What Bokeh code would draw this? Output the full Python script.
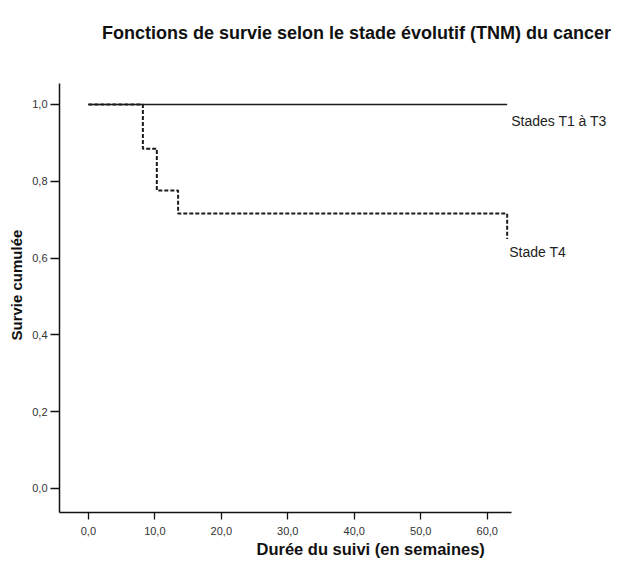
from bokeh.plotting import figure
from bokeh.models import Range1d, FixedTicker, Label, Title
from bokeh.embed import file_html
from bokeh.resources import INLINE

# ---- data ----
t13_times = [0.0, 63.0]
t13_surv = [1.0, 1.0]
t4_times = [0.0, 8.2, 10.3, 13.5, 63.0]
t4_surv = [1.0, 0.885, 0.776, 0.716, 0.65]

x_ticks = [0, 10, 20, 30, 40, 50, 60]
x_tick_labels = ["0,0", "10,0", "20,0", "30,0", "40,0", "50,0", "60,0"]
y_ticks = [0.0, 0.2, 0.4, 0.6, 0.8, 1.0]
y_tick_labels = ["0,0", "0,2", "0,4", "0,6", "0,8", "1,0"]

title_text = "Fonctions de survie selon le stade évolutif (TNM) du cancer"
x_title = "Durée du suivi (en semaines)"
y_title = "Survie cumulée"
series_names = ["Stades T1 à T3", "Stade T4"]

FONT = "Liberation Sans"

p = figure(width=626, height=560, output_backend="svg", toolbar_location=None,
           x_range=Range1d(-4.34, 80.95), y_range=Range1d(-0.0625, 1.2708),
           min_border_left=56, min_border_right=0, min_border_top=0,
           min_border_bottom=48)
p.outline_line_color = None
p.xgrid.visible = False
p.ygrid.visible = False
p.background_fill_color = "white"
p.border_fill_color = "white"

for ax in (p.xaxis[0], p.yaxis[0]):
    ax.axis_line_color = "#111111"
    ax.axis_line_width = 1.5
    ax.major_tick_line_color = "#111111"
    ax.major_tick_line_width = 1.3
    ax.major_tick_in = 0
    ax.minor_tick_line_color = None
    ax.major_label_text_font = FONT
    ax.major_label_text_font_size = "11px"
    ax.major_label_text_color = "#333333"

p.xaxis.ticker = FixedTicker(ticks=x_ticks)
p.xaxis.major_label_overrides = {float(t): l for t, l in zip(x_ticks, x_tick_labels)}
p.xaxis.major_tick_out = 7
p.xaxis.major_label_standoff = 7
p.xaxis.bounds = (-4.34, 63.6)
p.yaxis.ticker = FixedTicker(ticks=y_ticks)
p.yaxis.major_label_overrides = {float(t): l for t, l in zip(y_ticks, y_tick_labels)}
p.yaxis.major_tick_out = 9
p.yaxis.major_label_standoff = 3
p.yaxis.bounds = (-0.0625, 1.0555)

p.step(t13_times, t13_surv, mode="after", line_color="#1a1a1a", line_width=1.5)
p.step(t4_times, t4_surv, mode="after", line_color="#1a1a1a", line_width=2,
       line_dash="4 2")

p.add_layout(Label(x=63.6, y=0.956, text=series_names[0], text_font=FONT,
                   text_font_size="14px", text_color="#222222",
                   text_align="left", text_baseline="middle"))
p.add_layout(Label(x=63.3, y=0.615, text=series_names[1], text_font=FONT,
                   text_font_size="14px", text_color="#222222",
                   text_align="left", text_baseline="middle"))

p.add_layout(Label(x=40.33, y=1.185, text=title_text, text_font=FONT,
                   text_font_size="18px", text_font_style="bold",
                   text_color="#111111", text_align="center", text_baseline="middle"))

p.add_layout(Title(text=x_title, align="left", offset=197, standoff=0, text_font=FONT,
                   text_font_size="16.5px", text_font_style="bold",
                   text_color="#111111"), "below")
p.add_layout(Title(text=y_title, align="left", offset=172, text_font=FONT,
                   text_font_size="15px", text_font_style="bold",
                   text_color="#111111"), "left")

open("out.html", "w").write(file_html(p, INLINE))
